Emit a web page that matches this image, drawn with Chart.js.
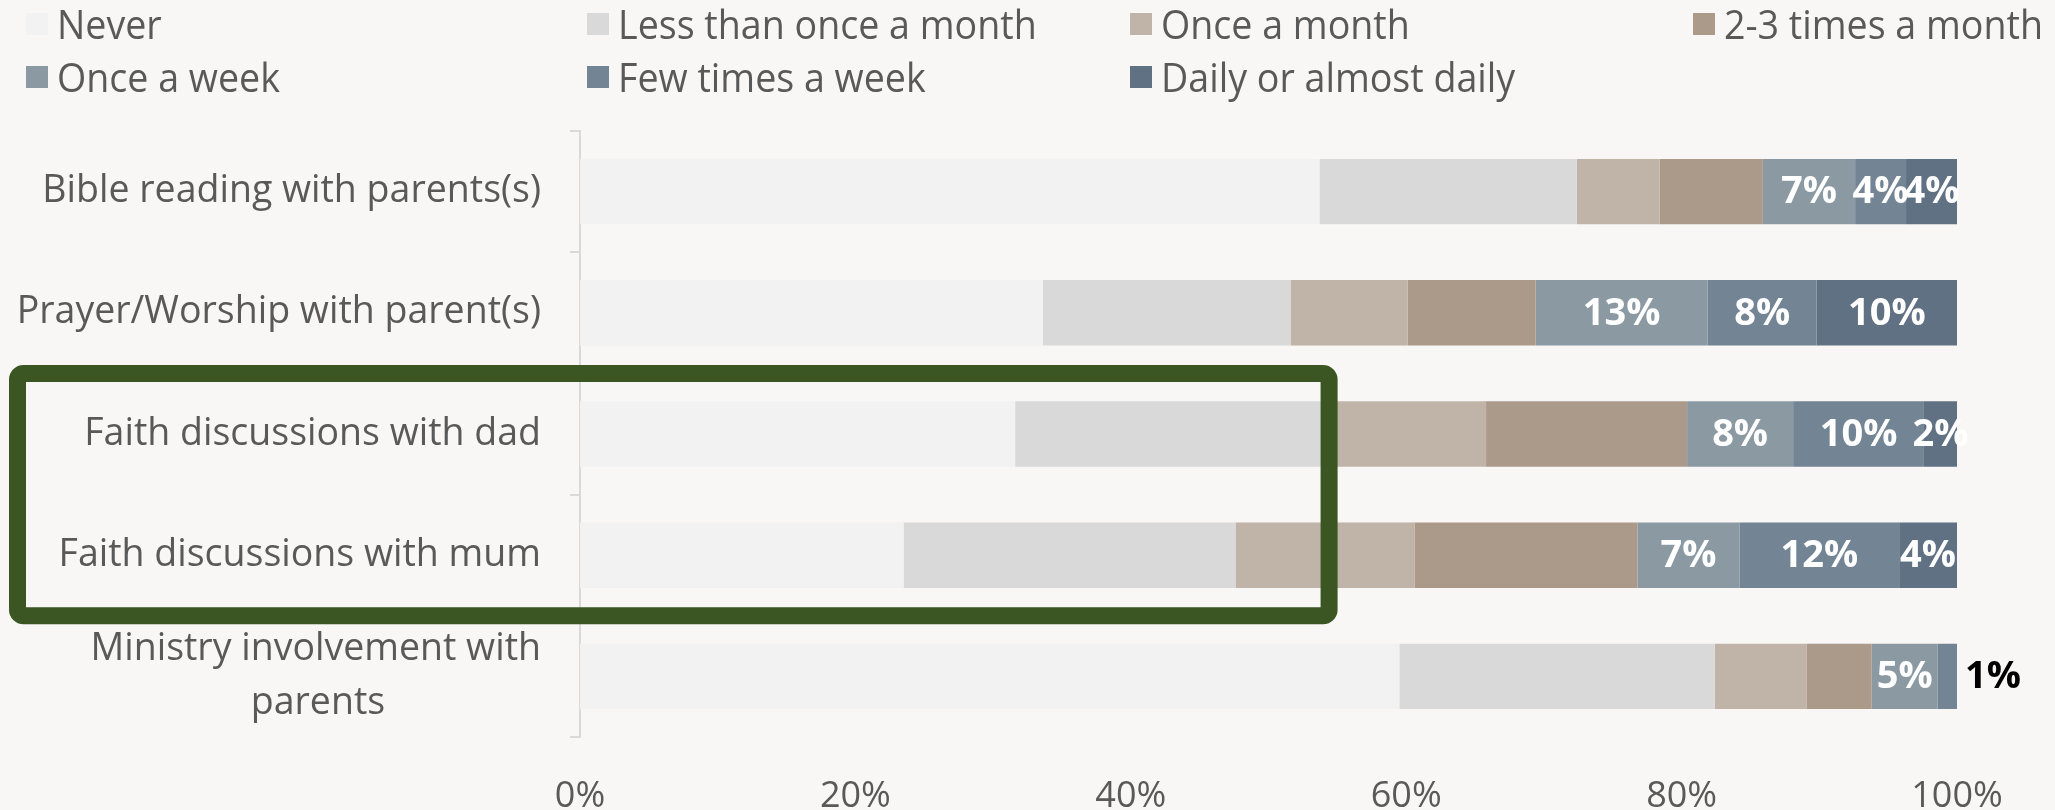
<!DOCTYPE html>
<html>
<head>
<meta charset="utf-8">
<script src="https://cdn.jsdelivr.net/npm/chart.js@4.4.1/dist/chart.umd.min.js"></script>
<style>
  html, body { margin: 0; padding: 0; background: #f8f7f5; }
  #wrap { position: relative; width: 2055px; height: 810px; overflow: hidden; }
  #chart { position: absolute; left: 0; top: 0; }
  .lg { position: absolute; display: flex; align-items: center; font-family: "Open Sans", sans-serif;
        font-size: 40px; color: #595959; white-space: nowrap; line-height: 1; }
  .lg span.box { display: inline-block; width: 22px; height: 22px; margin-right: 9px; }
  .lg span.txt { display: inline-block; transform: scaleX(0.94); transform-origin: left center; }
</style>
</head>
<body>
<div id="wrap">
  <canvas id="chart" width="2055" height="810"></canvas>
  <div id="legend"></div>
</div>
<script>
// ---- data ----
const categories = [
  'Bible reading with parents(s)',
  'Prayer/Worship with parent(s)',
  'Faith discussions with dad',
  'Faith discussions with mum',
  ['Ministry involvement with', 'parents']
];
const seriesNames = ['Never', 'Less than once a month', 'Once a month', '2-3 times a month',
                     'Once a week', 'Few times a week', 'Daily or almost daily'];
const never       = [53.7, 33.6, 31.6, 23.5, 59.5];
const lessMonthly = [18.7, 18.0, 22.6, 24.1, 22.9];
const onceMonth   = [6.0, 8.5, 11.6, 13.0, 6.7];
const twoThree    = [7.5, 9.3, 14.6, 16.2, 4.7];
const onceWeek    = [6.7, 12.5, 7.7, 7.4, 4.8];
const fewWeek     = [3.7, 7.9, 9.5, 11.6, 1.4];
const daily       = [3.7, 10.2, 2.4, 4.2, 0];
const xTicks      = [0, 20, 40, 60, 80, 100];

const seriesValues = [never, lessMonthly, onceMonth, twoThree, onceWeek, fewWeek, daily];
const seriesColors = ['#f2f2f2', '#d9d9d9', '#c0b4a8', '#ab998a', '#8b99a3', '#738594', '#5f7183'];
const labelledSeries = [4, 5, 6];

// ---- legend (HTML) ----
const legendPos = [[26, 24], [587, 24], [1130, 24], [1693, 24], [26, 77], [587, 77], [1130, 77]];
const legendEl = document.getElementById('legend');
seriesNames.forEach((n, i) => {
  const d = document.createElement('div');
  d.className = 'lg';
  d.style.left = legendPos[i][0] + 'px';
  d.style.top = (legendPos[i][1] - 22) + 'px';
  d.style.height = '44px';
  const b = document.createElement('span');
  b.className = 'box';
  b.style.background = seriesColors[i];
  d.appendChild(b);
  const t = document.createElement('span');
  t.className = 'txt';
  t.textContent = n;
  d.appendChild(t);
  legendEl.appendChild(d);
});

// ---- helpers ----
const catFont = '37.5px "Open Sans"';
const mctx = document.createElement('canvas').getContext('2d');
mctx.font = catFont;
function centerLines(lbl) {
  if (!Array.isArray(lbl)) return lbl;
  const w = lbl.map(s => mctx.measureText(s).width);
  const maxW = Math.max(...w);
  const sp = mctx.measureText(' ').width;
  return lbl.map((s, i) => s + ' '.repeat(Math.round((maxW - w[i]) / 2 / sp)));
}

const bgPlugin = {
  id: 'bg',
  beforeDraw(chart) {
    const c = chart.ctx;
    c.save(); c.fillStyle = '#f8f7f5'; c.fillRect(0, 0, chart.width, chart.height); c.restore();
  }
};

const valueLabels = {
  id: 'valueLabels',
  afterDatasetsDraw(chart) {
    const c = chart.ctx;
    c.save();
    c.font = 'bold 38px "Open Sans"';
    c.textBaseline = 'middle';
    labelledSeries.forEach(di => {
      const meta = chart.getDatasetMeta(di);
      meta.data.forEach((el, j) => {
        const v = seriesValues[di][j];
        if (!v) return;
        const txt = Math.round(v) + '%';
        if (v >= 2) {
          c.fillStyle = '#ffffff';
          c.textAlign = 'center';
          c.fillText(txt, (el.x + el.base) / 2, el.y + 1);
        } else {
          const endX = chart.scales.x.getPixelForValue(100);
          c.fillStyle = '#000000';
          c.textAlign = 'left';
          c.fillText(txt, endX + 8, el.y + 1);
        }
      });
    });
    c.restore();
  }
};

const highlightBox = {
  id: 'highlightBox',
  afterDraw(chart) {
    const c = chart.ctx, x = chart.scales.x, y = chart.scales.y;
    const top = (y.getPixelForValue(1) + y.getPixelForValue(2)) / 2;
    const bottom = (y.getPixelForValue(3) + y.getPixelForValue(4)) / 2;
    const left = 17.5;
    const right = x.getPixelForValue(54.4);
    c.save();
    c.strokeStyle = '#3b5623';
    c.lineWidth = 17;
    c.beginPath();
    c.roundRect(left, top, right - left, bottom - top, 6);
    c.stroke();
    c.restore();
  }
};

new Chart(document.getElementById('chart'), {
  type: 'bar',
  data: {
    labels: categories,
    datasets: seriesNames.map((n, i) => ({
      label: n,
      data: seriesValues[i],
      backgroundColor: seriesColors[i],
      borderWidth: 0,
      barPercentage: 0.54,
      categoryPercentage: 1.0
    }))
  },
  options: {
    indexAxis: 'y',
    responsive: false,
    animation: false,
    devicePixelRatio: 1,
    layout: { padding: { left: 0, right: 98, top: 131, bottom: 0 } },
    plugins: { legend: { display: false }, tooltip: { enabled: false } },
    scales: {
      x: {
        stacked: true, min: 0, max: 100,
        afterBuildTicks(s) { s.ticks = xTicks.map(v => ({ value: v })); },
        afterFit(s) { s.height = 73; },
        grid: { display: false },
        border: { display: false },
        ticks: {
          padding: 30,
          color: '#595959',
          font: { family: '"Open Sans"', size: 36 },
          callback: v => v + '%'
        }
      },
      y: {
        stacked: true,
        afterFit(s) { s.width = 580; },
        grid: { drawOnChartArea: false, tickLength: 10, color: '#d9d9d9', lineWidth: 2 },
        border: { color: '#d9d9d9', width: 2 },
        ticks: {
          padding: 29,
          color: '#595959',
          font: { family: '"Open Sans"', size: 37.5, lineHeight: 1.45 },
          callback(v) { return centerLines(categories[v]); }
        }
      }
    }
  },
  plugins: [bgPlugin, valueLabels, highlightBox]
});
</script>
</body>
</html>
